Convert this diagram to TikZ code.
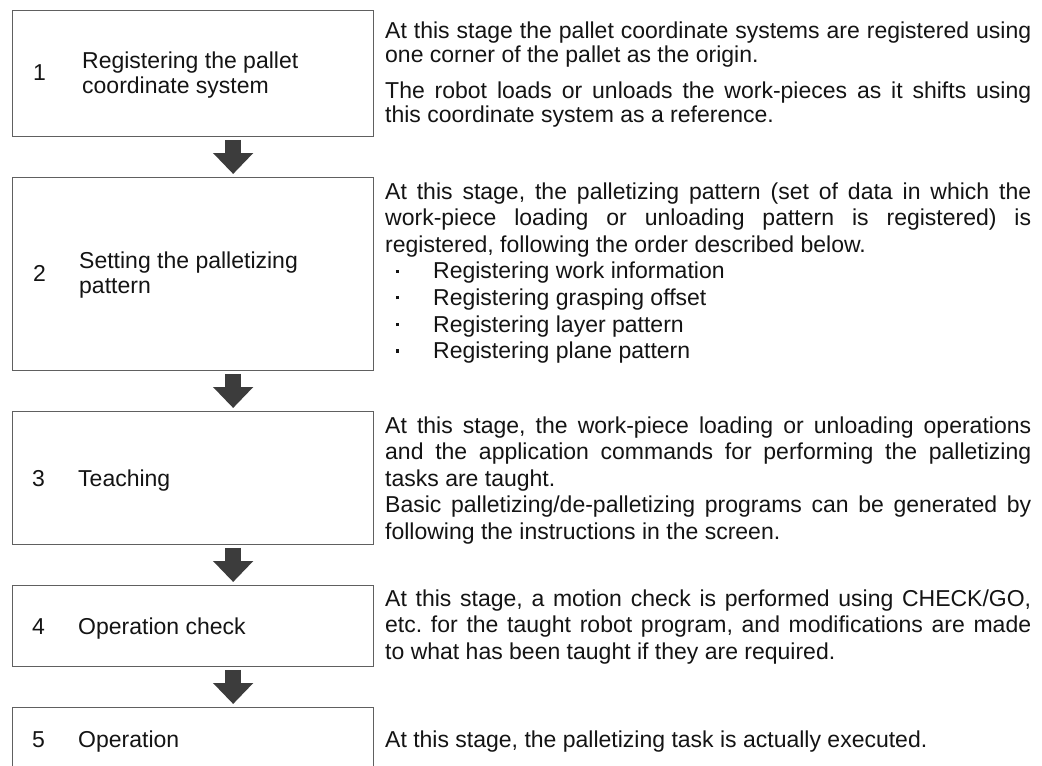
\documentclass[tikz,border=0pt]{standalone}
\usepackage{fontspec}
\setmainfont{Liberation Sans}
\usetikzlibrary{arrows.meta}
\definecolor{boxgray}{HTML}{606060}
\definecolor{arrowgray}{HTML}{3C3C3C}
\definecolor{ink}{HTML}{141414}
\newlength\dw \setlength\dw{646pt}
\newcommand\jline[1]{\leavevmode\hbox to\dw{\spaceskip=0pt\xspaceskip=0pt #1}}
\newcommand\eline[1]{\leavevmode\hbox{\spaceskip=0pt\xspaceskip=0pt #1}}
\newcommand\bul[1]{\leavevmode\hbox{\spaceskip=0pt\xspaceskip=0pt \hspace*{11pt}\rule[6pt]{3.2pt}{3.2pt}\hspace*{33.8pt}#1}}
\newcommand\lblfont{\fontsize{23}{25}\selectfont}
\newcommand\dscfont{\fontsize{23}{26.6}\selectfont\frenchspacing}
\begin{document}
\begin{tikzpicture}[x=1pt,y=-1pt,
  stage/.style={draw=boxgray, line width=1.3pt, fill=white, anchor=north west, minimum width=361pt, inner sep=0pt},
  lbl/.style={anchor=base west, inner sep=0pt, font=\lblfont, text=ink},
  desc/.style={anchor=base west, inner sep=0pt, text width=\dw, align=left, font=\dscfont, text=ink},
  flow/.style={arrowgray, line width=16pt, -{Triangle[width=39pt,length=21pt]}, shorten <=2.5pt, shorten >=3pt}
]
\useasboundingbox (0,0) rectangle (1042,766);
\fill[white] (0,0) rectangle (1042,766);

% stage boxes
\node[stage, minimum height=126pt] (b1) at (12,10) {};
\node[stage, minimum height=193pt] (b2) at (12,177) {};
\node[stage, minimum height=133pt] (b3) at (12,411) {};
\node[stage, minimum height=81pt]  (b4) at (12,585) {};
\node[stage, minimum height=95pt]  (b5) at (12,707) {};

% arrows
\draw[flow] ([xshift=40pt]b1.south) -- ([xshift=40pt]b2.north);
\draw[flow] ([xshift=40pt]b2.south) -- ([xshift=40pt]b3.north);
\draw[flow] ([xshift=40pt]b3.south) -- ([xshift=40pt]b4.north);
\draw[flow] ([xshift=40pt]b4.south) -- ([xshift=40pt]b5.north);

% left labels
\node[lbl] (n1) at (33,80) {1};
\node[lbl] (l1a) at (82,68) {Registering the pallet};
\node[lbl] (l1b) at (82,93) {coordinate system};
\node[lbl] (n2) at (33,281) {2};
\node[lbl] (l2a) at (79,268) {Setting the palletizing};
\node[lbl] (l2b) at (79,293) {pattern};
\node[lbl] (n3) at (32,486) {3};
\node[lbl] (l3) at (78,486) {Teaching};
\node[lbl] (n4) at (32,634) {4};
\node[lbl] (l4) at (78,634) {Operation check};
\node[lbl] (n5) at (32,747) {5};
\node[lbl] (l5) at (78,747) {Operation};

% descriptions
\node[desc] (d1) at (385,38) {%
\jline{At this stage the pallet coordinate systems are registered using}\\[-2.6pt]
\eline{one corner of the pallet as the origin.}\\[9.4pt]
\jline{The robot loads or unloads the work-pieces as it shifts using}\\[-2.6pt]
\eline{this coordinate system as a reference.}};

\node[desc] (d2) at (385,199) {%
\jline{At this stage, the palletizing pattern (set of data in which the}\\
\jline{work-piece loading or unloading pattern is registered) is}\\
\eline{registered, following the order described below.}\\
\bul{Registering work information}\\
\bul{Registering grasping offset}\\
\bul{Registering layer pattern}\\
\bul{Registering plane pattern}};

\node[desc] (d3) at (385,433) {%
\jline{At this stage, the work-piece loading or unloading operations}\\
\jline{and the application commands for performing the palletizing}\\
\eline{tasks are taught.}\\
\jline{Basic palletizing/de-palletizing programs can be generated by}\\
\eline{following the instructions in the screen.}};

\node[desc] (d4) at (385,606) {%
\jline{At this stage, a motion check is performed using CHECK/GO,}\\
\jline{etc. for the taught robot program, and modifications are made}\\
\eline{to what has been taught if they are required.}};

\node[desc] (d5) at (385,747) {%
\eline{At this stage, the palletizing task is actually executed.}};
\end{tikzpicture}
\end{document}
